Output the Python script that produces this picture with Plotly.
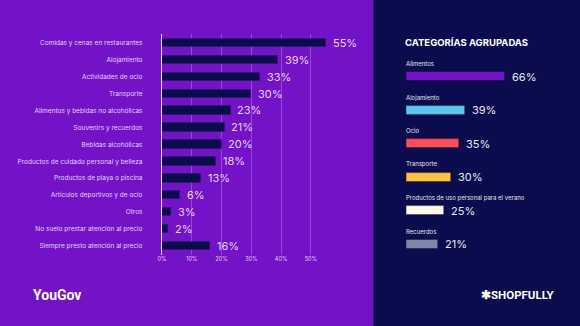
import plotly.graph_objects as go

# ---- data ----
categories = [
    "Comidas y cenas en restaurantes",
    "Alojamiento",
    "Actividades de ocio",
    "Transporte",
    "Alimentos y bebidas no alcohólicas",
    "Souvenirs y recuerdos",
    "Bebidas alcohólicas",
    "Productos de cuidado personal y belleza",
    "Productos de playa o piscina",
    "Artículos deportivos y de ocio",
    "Otros",
    "No suelo prestar atención al precio",
    "Siempre presto atención al precio",
]
values = [55, 39, 33, 30, 23, 21, 20, 18, 13, 6, 3, 2, 16]
x_ticks = [0, 10, 20, 30, 40, 50]

group_title = "CATEGORÍAS AGRUPADAS"
group_categories = [
    "Alimentos",
    "Alojamiento",
    "Ocio",
    "Transporte",
    "Productos de uso personal para el verano",
    "Recuerdos",
]
group_values = [66, 39, 35, 30, 25, 21]
group_colors = ["#7412C8", "#5CC8F0", "#FF4D5C", "#FFC23C", "#FFF7E8", "#8088AA"]

# ---- styling ----
PURPLE = "#7412C8"
NAVY = "#0A0C4E"
LAV = "#E2D4F4"
FONT = "Inter"
W, H = 580, 326

fig = go.Figure()

fig.add_trace(go.Bar(
    x=values, y=categories, orientation="h",
    marker=dict(color="#0B0C4A", line=dict(color="#2A1A70", width=0.6)),
    width=0.5, xaxis="x", yaxis="y", hoverinfo="skip",
))

fig.add_trace(go.Bar(
    x=group_values, y=group_categories, orientation="h",
    marker=dict(color=group_colors, line=dict(color="rgba(0,0,0,0.35)", width=1)),
    width=0.27, xaxis="x2", yaxis="y2", hoverinfo="skip",
))

annotations = []
for c, v in zip(categories, values):
    annotations.append(dict(
        x=v, y=c, xref="x", yref="y", text=f"{v}%", showarrow=False,
        xanchor="left", yanchor="middle", xshift=5,
        font=dict(family=FONT, size=11, color=LAV),
    ))
for c, v in zip(group_categories, group_values):
    annotations.append(dict(
        x=v, y=c, xref="x2", yref="y2", text=f"{v}%", showarrow=False,
        xanchor="left", yanchor="middle", xshift=5,
        font=dict(family=FONT, size=11, color="#E8E8F0"),
    ))
    annotations.append(dict(
        x=0, y=c, xref="x2", yref="y2", text=c, showarrow=False,
        xanchor="left", yanchor="middle", yshift=13, xshift=-2,
        font=dict(family=FONT, size=6, color="#E6E6F0"),
    ))

annotations.append(dict(
    x=405 / W, y=1 - 42 / H, xref="paper", yref="paper", text=f"<b>{group_title}</b>",
    showarrow=False, xanchor="left", yanchor="middle", xshift=-3,
    font=dict(family=FONT, size=9.5, color="white", weight=900),
))
annotations.append(dict(
    x=27 / W, y=1 - 295 / H, xref="paper", yref="paper", text="<b>YouGov</b>",
    showarrow=False, xanchor="left", yanchor="middle",
    font=dict(family="Roboto", size=14, color="white"),
))
annotations.append(dict(
    x=478 / W, y=1 - 295 / H, xref="paper", yref="paper", text="<b>✱SHOPFULLY</b>",
    showarrow=False, xanchor="left", yanchor="middle",
    font=dict(family="Roboto", size=11.5, color="white"),
))

fig.update_layout(
    width=W, height=H,
    margin=dict(l=0, r=0, t=0, b=0),
    paper_bgcolor=PURPLE, plot_bgcolor="rgba(0,0,0,0)",
    showlegend=False, bargap=0,
    font=dict(family=FONT, color=LAV),
    xaxis=dict(
        domain=[159 / W, 369 / W], range=[0, 70],
        tickvals=x_ticks, ticktext=[f"{t}%" for t in x_ticks],
        tickfont=dict(size=5.5, color=LAV),
        showgrid=True, gridcolor="#9446DA", gridwidth=1,
        zeroline=False, showline=False, fixedrange=True,
    ),
    yaxis=dict(
        domain=[1 - 254.8 / H, 1 - 33.8 / H],
        autorange="reversed", categoryorder="array", categoryarray=categories,
        tickfont=dict(size=6.5, color=LAV), ticklabelstandoff=17,
        showline=True, linecolor="#E6DCF6", linewidth=1.2,
        showgrid=False, zeroline=False, ticks="",
    ),
    xaxis2=dict(
        domain=[405 / W, 568 / W], range=[0, 107.6], anchor="y2",
        visible=False, fixedrange=True,
    ),
    yaxis2=dict(
        domain=[1 - 262.9 / H, 1 - 60.1 / H], anchor="x2",
        autorange="reversed", categoryorder="array", categoryarray=group_categories,
        visible=False,
    ),
    shapes=[dict(
        type="rect", xref="paper", yref="paper", x0=372 / W, x1=1, y0=0, y1=1,
        fillcolor=NAVY, line=dict(width=0), layer="below",
    )],
    annotations=annotations,
)

fig.write_html("out.html")
